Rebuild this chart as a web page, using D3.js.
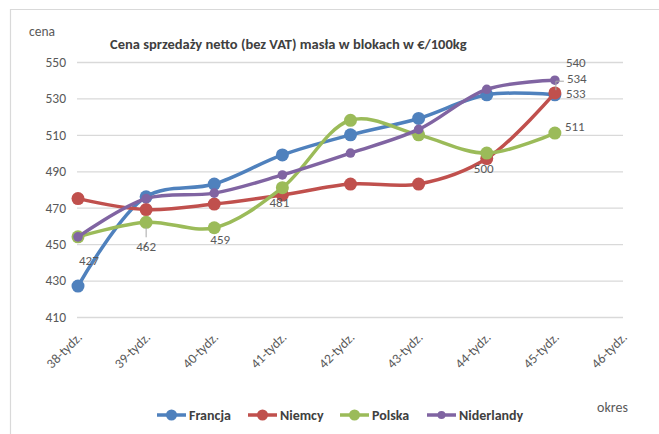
<!DOCTYPE html>
<html>
<head>
<meta charset="utf-8">
<script src="https://cdn.jsdelivr.net/npm/d3@7"></script>
<style>
	body { margin: 0; background: #fff; }
	text { font-family: Carlito, Calibri, "Liberation Sans", Arial, sans-serif; }
</style>
</head>
<body>
<svg id="chart" width="659" height="434"></svg>
<script>

const weeks = ["38-tydz.", "39-tydz.", "40-tydz.", "41-tydz.", "42-tydz.", "43-tydz.", "44-tydz.", "45-tydz.", "46-tydz."];

const francja    = [427, 476, 483, 499, 510, 519, 532, 532];
const niemcy     = [475, 469, 472, 477, 483, 483, 497, 533];
const polska     = [454, 462, 459, 481, 518, 510, 500, 511];
const niderlandy = [454, 475, 478, 488, 500, 513, 535, 540];

const seriesNames = ["Francja", "Niemcy", "Polska", "Niderlandy"];
const seriesValues = [francja, niemcy, polska, niderlandy];
const seriesColors = ["#4f81bd", "#c0504d", "#9bbb59", "#8064a2"];

const yTicks = [410, 430, 450, 470, 490, 510, 530, 550];

// data labels: week index, value they hang on, text
const labelWeeks  = [0, 1, 2, 3, 6, 7, 7, 7, 7];
const labelValues = [427, 462, 459, 481, 500, 511, 533, 534, 540];
const labelTexts  = ["427", "462", "459", "481", "500", "511", "533", "534", "540"];

const title = "Cena sprzedaży netto (bez VAT) masła w blokach w €/100kg";

const svg = d3.select("#chart");

const x = d3.scalePoint()
	.domain(weeks)
	.range([78, 623]);

const y = d3.scaleLinear()
	.domain([410, 550])
	.range([317, 62]);

// chart area border (cropped on the right and bottom)
svg.append("path")
	.attr("d", "M10.5,434 L10.5,9.5 L659,9.5")
	.attr("fill", "none")
	.attr("stroke", "#d9d9d9")
	.attr("stroke-width", 1.2);

// gridlines + y labels
const yAxis = svg.append("g")
	.attr("transform", "translate(77,0)")
	.call(d3.axisLeft(y).tickValues(yTicks).tickSize(-546).tickPadding(11).tickFormat(d3.format("d")));

yAxis.select(".domain").remove();
yAxis.selectAll(".tick line")
	.attr("stroke", "#d9d9d9")
	.attr("stroke-width", 1.3);
yAxis.selectAll(".tick text")
	.attr("fill", "#595959")
	.style("font-size", "13.5px");

// x labels, rotated
svg.append("g")
	.selectAll("text")
	.data(weeks)
	.enter()
	.append("text")
	.attr("transform", d => "translate(" + (x(d) + 5) + ",338) rotate(-45)")
	.attr("text-anchor", "end")
	.attr("fill", "#595959")
	.style("font-size", "13.5px")
	.text(d => d);

const line = d3.line()
	.x((d, i) => x(weeks[i]))
	.y(d => y(d))
	.curve(d3.curveCatmullRom.alpha(0.5));

const series = svg.append("g")
	.selectAll("g")
	.data(seriesValues)
	.enter()
	.append("g");

series.append("path")
	.attr("d", d => line(d))
	.attr("fill", "none")
	.attr("stroke", (d, i) => seriesColors[i])
	.attr("stroke-width", 3.5)
	.attr("stroke-linejoin", "round");

series.each(function(vals, si) {
	d3.select(this).selectAll("circle")
		.data(vals)
		.enter()
		.append("circle")
		.attr("cx", (d, i) => x(weeks[i]))
		.attr("cy", d => y(d))
		.attr("r", si == 3 ? 4.8 : 6.5)
		.attr("fill", seriesColors[si]);
});

// leader lines
svg.append("path")
	.attr("d", "M" + x(weeks[1]) + "," + (y(462) + 5) + " V" + (y(462) + 15))
	.attr("stroke", "#a6a6a6")
	.attr("fill", "none");
svg.append("path")
	.attr("d", "M" + (x(weeks[7]) + 1) + "," + (y(534) - 1) + " V" + (y(540) + 1) + " H" + (x(weeks[7]) + 9))
	.attr("stroke", "#a6a6a6")
	.attr("fill", "none");

// data labels
const labelDx = [1, 0, 6, -3, -3, 10, 11, 12, 11];
const labelDy = [-21, 29, 16, 19, 20, -2, 5.5, -8.5, -13];
const labelAnchor = ["start", "middle", "middle", "middle", "middle", "start", "start", "start", "start"];

svg.append("g")
	.selectAll("text")
	.data(labelTexts)
	.enter()
	.append("text")
	.attr("x", (d, i) => x(weeks[labelWeeks[i]]) + labelDx[i])
	.attr("y", (d, i) => y(labelValues[i]) + labelDy[i])
	.attr("text-anchor", (d, i) => labelAnchor[i])
	.attr("fill", "#595959")
	.style("font-size", "13px")
	.text(d => d);

// title and axis titles
svg.append("text")
	.attr("x", 110)
	.attr("y", 49)
	.attr("fill", "#404040")
	.style("font-size", "14.5px")
	.style("font-weight", "bold")
	.text(title);

svg.append("text")
	.attr("x", 29)
	.attr("y", 36)
	.attr("fill", "#595959")
	.style("font-size", "13.5px")
	.text("cena");

svg.append("text")
	.attr("x", 597)
	.attr("y", 412)
	.attr("fill", "#595959")
	.style("font-size", "14px")
	.text("okres");

// legend
const legendX = [157, 248, 340, 427];

const legend = svg.append("g")
	.selectAll("g")
	.data(seriesNames)
	.enter()
	.append("g")
	.attr("transform", (d, i) => "translate(" + legendX[i] + ",415)");

legend.append("line")
	.attr("x2", 29)
	.attr("stroke", (d, i) => seriesColors[i])
	.attr("stroke-width", 3.5);

legend.append("circle")
	.attr("cx", 14.5)
	.attr("r", (d, i) => i == 3 ? 4 : 5.5)
	.attr("fill", (d, i) => seriesColors[i]);

legend.append("text")
	.attr("x", 32)
	.attr("y", 5)
	.attr("fill", "#404040")
	.style("font-size", "14px")
	.style("font-weight", "bold")
	.text(d => d);

</script>
</body>
</html>
